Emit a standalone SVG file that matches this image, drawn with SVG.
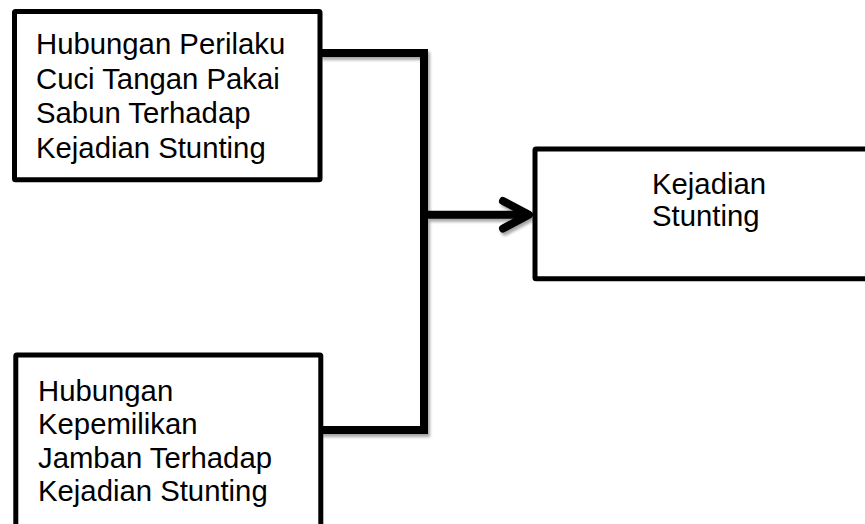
<svg xmlns="http://www.w3.org/2000/svg" width="865" height="524" viewBox="0 0 865 524">
  <defs>
    <filter id="soft-shadow" x="-10%" y="-10%" width="130%" height="130%">
      <feGaussianBlur in="SourceAlpha" stdDeviation="1.8"/>
      <feOffset dx="1.5" dy="3" result="blur"/>
      <feComponentTransfer><feFuncA type="linear" slope="0.35"/></feComponentTransfer>
      <feMerge><feMergeNode/><feMergeNode in="SourceGraphic"/></feMerge>
    </filter>
  </defs>
  <style>
    .box { fill: #ffffff; stroke: #000000; stroke-width: 5; stroke-linejoin: round; }
    .label { font-family: "Liberation Sans", Arial, sans-serif; font-size: 29.3px; fill: #000000; }
    .wire { fill: none; stroke: #000000; stroke-width: 8; }
    .head { fill: none; stroke: #000000; stroke-width: 8; stroke-linecap: round; stroke-linejoin: round; }
  </style>

  <g id="connectors" filter="url(#soft-shadow)">
    <path class="wire" d="M320 53 H424 V430 H320"/>
    <path class="wire" d="M424 214.7 H527"/>
    <path class="head" d="M503 201 L529 214.7 L503 228.5"/>
  </g>

  <g id="node-cuci-tangan">
    <rect class="box" x="14.5" y="11.5" width="305.5" height="168.3" rx="1"/>
    <text class="label" x="36">
      <tspan x="36" y="54.3">Hubungan Perilaku</tspan>
      <tspan x="36" y="88.8">Cuci Tangan Pakai</tspan>
      <tspan x="36" y="123.3">Sabun Terhadap</tspan>
      <tspan x="36" y="157.8">Kejadian Stunting</tspan>
    </text>
  </g>

  <g id="node-jamban">
    <rect class="box" x="15.8" y="355" width="305" height="200" rx="1"/>
    <text class="label" x="38">
      <tspan x="38" y="401">Hubungan</tspan>
      <tspan x="38" y="434.3">Kepemilikan</tspan>
      <tspan x="38" y="467.7">Jamban Terhadap</tspan>
      <tspan x="38" y="501">Kejadian Stunting</tspan>
    </text>
  </g>

  <g id="node-kejadian-stunting">
    <rect class="box" x="535" y="149" width="340" height="129.7" rx="1"/>
    <text class="label" x="652">
      <tspan x="652" y="194.3">Kejadian</tspan>
      <tspan x="652" y="225.8">Stunting</tspan>
    </text>
  </g>
</svg>
